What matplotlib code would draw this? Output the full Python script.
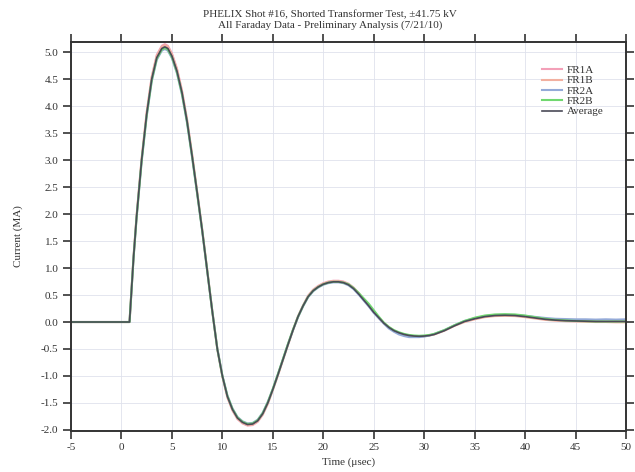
import matplotlib
matplotlib.use("Agg")
import matplotlib.pyplot as plt

plt.rcParams['font.family'] = ['Liberation Serif', 'DejaVu Serif']
plt.rcParams['axes.unicode_minus'] = False

# ───────── DATA ─────────
time_us = [
    -5.0, 0.8, 1.0, 1.2, 1.5, 2.0, 2.5, 3.0, 3.5, 4.0, 4.3, 4.6,
    5.0, 5.5, 6.0, 6.5, 7.0, 7.5, 8.0, 8.5, 9.0, 9.5, 10.0, 10.5,
    11.0, 11.5, 12.0, 12.5, 13.0, 13.5, 14.0, 14.5, 15.0, 15.5, 16.0, 16.5,
    17.0, 17.5, 18.0, 18.5, 19.0, 19.5, 20.0, 20.5, 21.0, 21.5, 22.0, 22.5,
    23.0, 23.5, 24.0, 24.5, 25.0, 25.5, 26.0, 26.5, 27.0, 27.5, 28.0, 28.5,
    29.0, 29.5, 30.0, 30.5, 31.0, 32.0, 33.0, 34.0, 35.0, 36.0, 37.0, 38.0,
    39.0, 40.0, 41.0, 42.0, 43.0, 44.0, 45.0, 46.0, 47.0, 48.0, 49.0, 50.0,
]

fr1a = [
    0.0, 0.0, 0.61, 1.21, 1.97, 3.03, 3.89, 4.55, 4.95, 5.12, 5.15, 5.12,
    4.98, 4.7, 4.29, 3.76, 3.11, 2.42, 1.72, 0.96, 0.21, -0.5, -1.01, -1.4,
    -1.64, -1.8, -1.88, -1.92, -1.91, -1.85, -1.72, -1.52, -1.26, -0.99, -0.71, -0.43,
    -0.15, 0.11, 0.31, 0.49, 0.6, 0.67, 0.72, 0.75, 0.765, 0.765, 0.75, 0.71,
    0.64, 0.54, 0.42, 0.31, 0.19, 0.08, -0.02, -0.1, -0.16, -0.2, -0.23, -0.25,
    -0.26, -0.265, -0.26, -0.25, -0.23, -0.16, -0.07, 0.01, 0.06, 0.1, 0.12, 0.125,
    0.12, 0.1, 0.075, 0.05, 0.035, 0.025, 0.02, 0.015, 0.01, 0.005, 0.005, 0.0,
]

fr1b = [
    0.0, 0.0, 0.6, 1.21, 1.96, 3.02, 3.87, 4.53, 4.93, 5.10, 5.13, 5.10,
    4.96, 4.68, 4.27, 3.74, 3.1, 2.41, 1.71, 0.96, 0.2, -0.5, -1.0, -1.39,
    -1.63, -1.79, -1.87, -1.91, -1.9, -1.84, -1.71, -1.51, -1.26, -0.99, -0.7, -0.42,
    -0.15, 0.1, 0.3, 0.48, 0.59, 0.66, 0.71, 0.74, 0.755, 0.755, 0.74, 0.7,
    0.63, 0.53, 0.41, 0.3, 0.18, 0.08, -0.02, -0.1, -0.16, -0.21, -0.24, -0.26,
    -0.27, -0.27, -0.265, -0.25, -0.23, -0.16, -0.07, 0.0, 0.05, 0.09, 0.11, 0.115,
    0.11, 0.09, 0.065, 0.04, 0.025, 0.015, 0.01, 0.005, 0.0, 0.0, -0.005, -0.005,
]

fr2a = [
    0.0, 0.0, 0.59, 1.19, 1.93, 2.97, 3.81, 4.46, 4.86, 5.03, 5.06, 5.03,
    4.89, 4.61, 4.21, 3.69, 3.05, 2.38, 1.69, 0.94, 0.2, -0.49, -0.99, -1.36,
    -1.6, -1.76, -1.84, -1.88, -1.87, -1.81, -1.68, -1.48, -1.24, -0.97, -0.69, -0.41,
    -0.15, 0.09, 0.29, 0.46, 0.57, 0.64, 0.69, 0.72, 0.735, 0.735, 0.72, 0.68,
    0.61, 0.51, 0.4, 0.29, 0.17, 0.07, -0.03, -0.12, -0.18, -0.23, -0.26, -0.28,
    -0.28, -0.28, -0.27, -0.25, -0.22, -0.15, -0.06, 0.02, 0.07, 0.11, 0.13, 0.135,
    0.13, 0.115, 0.095, 0.075, 0.06, 0.055, 0.05, 0.05, 0.045, 0.05, 0.045, 0.05,
]

fr2b = [
    0.0, 0.0, 0.6, 1.2, 1.94, 2.99, 3.83, 4.48, 4.88, 5.05, 5.08, 5.05,
    4.91, 4.63, 4.23, 3.71, 3.07, 2.39, 1.7, 0.95, 0.2, -0.5, -1.0, -1.37,
    -1.61, -1.77, -1.85, -1.89, -1.88, -1.82, -1.69, -1.49, -1.24, -0.97, -0.69, -0.41,
    -0.14, 0.1, 0.3, 0.47, 0.58, 0.65, 0.7, 0.73, 0.745, 0.745, 0.73, 0.7,
    0.63, 0.54, 0.44, 0.34, 0.22, 0.1, -0.01, -0.09, -0.15, -0.19, -0.22, -0.24,
    -0.25, -0.255, -0.25, -0.24, -0.22, -0.15, -0.06, 0.02, 0.08, 0.12, 0.14, 0.145,
    0.14, 0.12, 0.09, 0.06, 0.04, 0.03, 0.02, 0.015, 0.01, 0.01, 0.01, 0.01,
]

average = [
    0.0, 0.0, 0.6, 1.2, 1.95, 3.0, 3.85, 4.5, 4.9, 5.07, 5.10, 5.07,
    4.93, 4.65, 4.25, 3.72, 3.08, 2.4, 1.7, 0.95, 0.2, -0.5, -1.0, -1.38,
    -1.62, -1.78, -1.86, -1.9, -1.89, -1.83, -1.7, -1.5, -1.25, -0.98, -0.7, -0.42,
    -0.15, 0.1, 0.3, 0.47, 0.58, 0.65, 0.7, 0.73, 0.745, 0.745, 0.73, 0.69,
    0.62, 0.52, 0.41, 0.3, 0.18, 0.08, -0.02, -0.1, -0.16, -0.2, -0.23, -0.25,
    -0.26, -0.265, -0.26, -0.25, -0.23, -0.16, -0.07, 0.01, 0.06, 0.1, 0.12, 0.125,
    0.12, 0.1, 0.075, 0.05, 0.035, 0.025, 0.02, 0.015, 0.01, 0.01, 0.01, 0.01,
]

x_ticks = [-5, 0, 5, 10, 15, 20, 25, 30, 35, 40, 45, 50]
y_ticks = [-2.0, -1.5, -1.0, -0.5, 0.0, 0.5, 1.0, 1.5, 2.0, 2.5, 3.0, 3.5, 4.0, 4.5, 5.0]
# ─────────────────────────────────────────────────

fig = plt.figure(figsize=(6.35, 4.72), dpi=100)
ax = fig.add_axes([71/635, 1 - 431/472, 555/635, 389/472])

ax.plot(time_us, fr1a, color='#f3a0b8', lw=1.5, label='FR1A')
ax.plot(time_us, fr1b, color='#f2b0a0', lw=1.5, label='FR1B')
ax.plot(time_us, fr2a, color='#94aad8', lw=1.5, label='FR2A')
ax.plot(time_us, fr2b, color='#70d870', lw=1.5, label='FR2B')
ax.plot(time_us, average, color='#4a4a58', lw=1.2, label='Average')

ax.set_xlim(-5, 50)
ax.set_ylim(-2.02, 5.19)
ax.set_xticks(x_ticks)
ax.set_xticklabels([str(v) for v in x_ticks])
ax.set_yticks(y_ticks)
ax.set_yticklabels([f"{v:.1f}" for v in y_ticks])

ax.grid(True, color='#dfe2ec', lw=0.6)
ax.set_axisbelow(True)
for s in ax.spines.values():
    s.set_linewidth(1.4)
    s.set_color('#333333')
ax.tick_params(axis='both', which='major', direction='out', length=6, width=1.2,
               color='#333333', labelsize=8, labelcolor='#333333', pad=3,
               top=True, right=True, labeltop=False, labelright=False)

ax.set_xlabel('Time (μsec)', fontsize=8, color='#333333')
ax.xaxis.set_label_coords(0.5, -0.068)
ax.set_ylabel('Current (MA)', fontsize=8, color='#333333')
ax.yaxis.set_label_coords(-0.087, 0.5)

fig.text(330/635, 1 - 15/472, 'PHELIX Shot #16, Shorted Transformer Test, ±41.75 kV',
         ha='center', va='center', fontsize=8, color='#333333')
fig.text(330/635, 1 - 25/472, 'All Faraday Data - Preliminary Analysis (7/21/10)',
         ha='center', va='center', fontsize=8, color='#333333')

ax.legend(loc='upper left', bbox_to_anchor=(0.835, 0.96), frameon=False, fontsize=8,
          handlelength=1.8, handletextpad=0.4, labelspacing=0.05, borderpad=0.2,
          labelcolor='#333333')

fig.savefig('out.png', dpi=100)
